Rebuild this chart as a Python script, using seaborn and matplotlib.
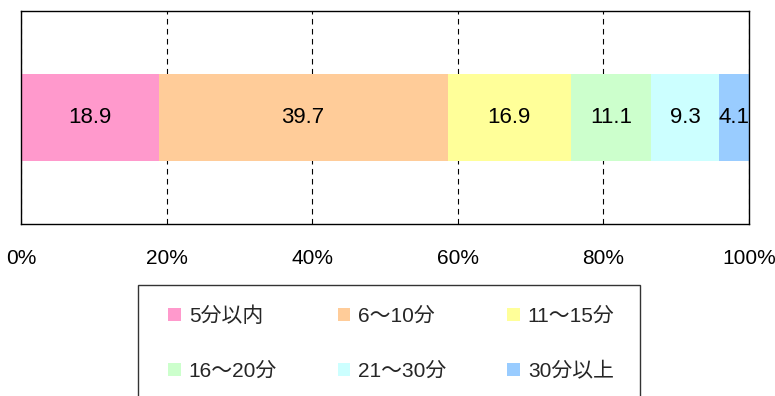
import numpy as np
import pandas as pd
import matplotlib
matplotlib.use("Agg")
import matplotlib.pyplot as plt
from matplotlib.patches import Patch, Rectangle
import seaborn as sns

# Commute time distribution (%)
categories = ["5分以内", "6～10分", "11～15分", "16～20分", "21～30分", "30分以上"]
values = [18.9, 39.7, 16.9, 11.1, 9.3, 4.1]
colors = ["#FF99CC", "#FFCC99", "#FFFF99", "#CCFFCC", "#CCFFFF", "#99CCFF"]
tick_values = [0, 20, 40, 60, 80, 100]
tick_labels = ["0%", "20%", "40%", "60%", "80%", "100%"]

sns.set_style("white")
plt.rcParams["font.family"] = ["Liberation Sans", "Noto Sans CJK JP", "DejaVu Sans"]

cum = np.cumsum(values)
df = pd.DataFrame({"cat": categories, "value": values, "cum": cum, "row": [""] * len(values)})

W, H = 775, 396
fig = plt.figure(figsize=(W / 100, H / 100), dpi=100)
ax = fig.add_axes([21 / W, 1 - 224 / H, 728 / W, 213 / H])

# Stacked bar: draw cumulative totals from the largest down so each segment shows
for i in reversed(range(len(df))):
    sns.barplot(data=df.iloc[[i]], x="cum", y="row", orient="h", color=colors[i],
                saturation=1, width=0.413, linewidth=0, ax=ax, zorder=2)

for v, c in zip(df["value"], df["cum"]):
    ax.text(c - v / 2, 0.0, f"{v:.1f}", ha="center", va="center",
            family="Liberation Sans", fontsize=16, color="black", zorder=3)

ax.set_xlim(0, 100)
ax.set_ylim(0.5, -0.5)
ax.set_xticks(tick_values)
ax.set_xticklabels(tick_labels, family=["Liberation Sans Narrow", "Liberation Sans"], fontsize=15)
ax.tick_params(axis="x", length=0, pad=18, colors="black")
ax.set_yticks([])
ax.set_xlabel("")
ax.set_ylabel("")
ax.set_axisbelow(True)
ax.xaxis.grid(True, linestyle=(0, (5, 4)), color="black", linewidth=0.8)
for s in ax.spines.values():
    s.set_visible(True)
    s.set_color("black")
    s.set_linewidth(1.0)

# Legend frame, running past the bottom edge
fig.patches.append(Rectangle((138 / W, -0.1), 502 / W, 0.1 + 1 - 285 / H,
                             transform=fig.transFigure, fill=False,
                             edgecolor="#333333", linewidth=1.0, clip_on=False))

# Legend fills column by column; order the entries so they read across rows
ncol = 3
nrow = int(np.ceil(len(categories) / ncol))
order = [r * ncol + c for c in range(ncol) for r in range(nrow)]
handles = [Patch(facecolor=colors[k], edgecolor="none", label=categories[k]) for k in order]
fig.legend(handles=handles, loc="upper left", bbox_to_anchor=(168 / W, 1 - 306 / H),
           ncol=ncol, frameon=False, fontsize=15, borderpad=0, borderaxespad=0,
           handlelength=0.6, handleheight=0.6, handletextpad=0.4,
           labelspacing=1.74, columnspacing=2.9)

fig.savefig("out.png", dpi=100)
